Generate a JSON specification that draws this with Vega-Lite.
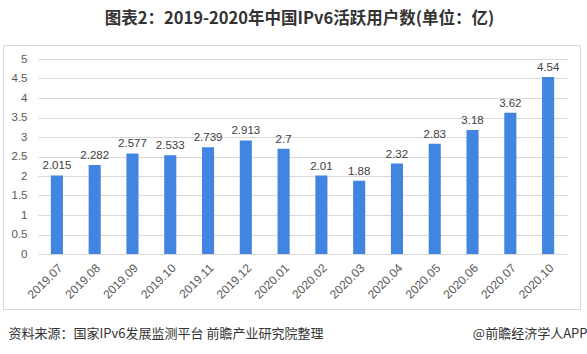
{
  "$schema": "https://vega.github.io/schema/vega-lite/v6.json",
  "width": 577,
  "height": 264,
  "autosize": {"type": "none"},
  "padding": {"left": 3, "top": 45, "right": 7, "bottom": 45},
  "background": "white",
  "title": {
    "text": "图表2：2019-2020年中国IPv6活跃用户数(单位：亿)",
    "font": "Noto Sans CJK SC",
    "fontSize": 16.5,
    "fontWeight": "bold",
    "color": "#333333",
    "anchor": "middle",
    "dx": 8,
    "offset": 18
  },
  "config": {
    "view": {"stroke": "#d9d9d9", "strokeWidth": 1},
    "font": "Liberation Sans"
  },
  "data": {
    "values": [
      {"month": "2019.07", "value": 2.015},
      {"month": "2019.08", "value": 2.282},
      {"month": "2019.09", "value": 2.577},
      {"month": "2019.10", "value": 2.533},
      {"month": "2019.11", "value": 2.739},
      {"month": "2019.12", "value": 2.913},
      {"month": "2020.01", "value": 2.7},
      {"month": "2020.02", "value": 2.01},
      {"month": "2020.03", "value": 1.88},
      {"month": "2020.04", "value": 2.32},
      {"month": "2020.05", "value": 2.83},
      {"month": "2020.06", "value": 3.18},
      {"month": "2020.07", "value": 3.62},
      {"month": "2020.10", "value": 4.54}
    ]
  },
  "encoding": {
    "x": {
      "field": "month",
      "type": "nominal",
      "sort": null,
      "scale": {"range": [35, 564], "paddingInner": 0.68, "paddingOuter": 0.34},
      "axis": {
        "orient": "bottom",
        "offset": -55,
        "domain": false,
        "ticks": false,
        "labelAngle": -45,
        "labelAlign": "right",
        "labelBaseline": "top",
        "labelFontSize": 12,
        "labelColor": "#595959",
        "labelPadding": 8,
        "title": "资料来源：国家IPv6发展监测平台 前瞻产业研究院整理",
        "titleFont": "Noto Sans CJK SC",
        "titleFontSize": 13,
        "titleFontWeight": "normal",
        "titleColor": "#333333",
        "titleAnchor": "start",
        "titleAlign": "left",
        "titleBaseline": "middle",
        "titleX": 5,
        "titleY": 79
      }
    },
    "y": {
      "field": "value",
      "type": "quantitative",
      "scale": {"domain": [0, 5], "range": [209, 14], "nice": false, "zero": true},
      "axis": {
        "orient": "left",
        "offset": -28,
        "domain": false,
        "ticks": false,
        "grid": true,
        "gridColor": "#d9d9d9",
        "gridWidth": 1,
        "values": [0, 0.5, 1, 1.5, 2, 2.5, 3, 3.5, 4, 4.5, 5],
        "format": "~g",
        "labelFontSize": 11.5,
        "labelColor": "#595959",
        "labelPadding": 4,
        "title": "@前瞻经济学人APP",
        "titleFont": "Noto Sans CJK SC",
        "titleFontSize": 13,
        "titleFontWeight": "normal",
        "titleColor": "#333333",
        "titleAngle": 0,
        "titleAlign": "right",
        "titleBaseline": "middle",
        "titleX": 556,
        "titleY": 288
      }
    }
  },
  "layer": [
    {"mark": {"type": "bar", "color": "#4285e0"}},
    {
      "mark": {"type": "text", "baseline": "bottom", "dy": -4, "fontSize": 11.5, "color": "#404040"},
      "encoding": {"text": {"field": "value", "type": "quantitative", "format": "~g"}}
    }
  ]
}
